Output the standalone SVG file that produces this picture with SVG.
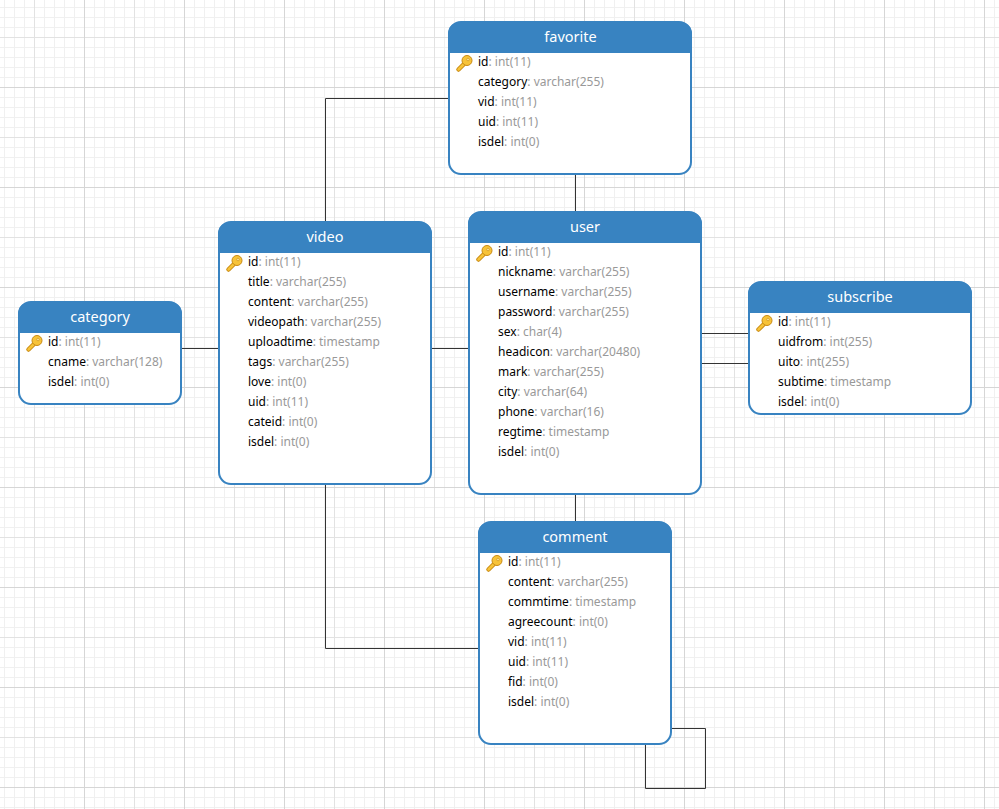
<svg xmlns="http://www.w3.org/2000/svg" width="999" height="809" viewBox="0 0 999 809">
<style>
.box{fill:#fff;stroke:#3883c1;stroke-width:2}
.head{fill:#3883c1}
.title{font:14.5px "Noto Sans","Open Sans",sans-serif;fill:#fff;text-anchor:middle}
.row{font:12px "Noto Sans","Open Sans",sans-serif;fill:#000}
.row tspan{fill:#999}
.wire{fill:none;stroke:#333;stroke-width:1}
</style>
<defs>
<pattern id="minor" width="10" height="10" patternUnits="userSpaceOnUse" x="4" y="7">
<path d="M.5 0V10M0 .5H10" fill="none" stroke="#f0f0f0" stroke-width="1"/>
</pattern>
<pattern id="mid" width="50" height="50" patternUnits="userSpaceOnUse" x="34" y="37">
<path d="M.5 0V50M0 .5H50" fill="none" stroke="#e2e2e2" stroke-width="1"/>
</pattern>
<pattern id="major" width="100" height="100" patternUnits="userSpaceOnUse" x="84" y="87">
<path d="M.5 0V100M0 .5H100" fill="none" stroke="#d6d6d6" stroke-width="1"/>
</pattern>
<g id="key">
<path d="M2.500 16.500L8 11" stroke="#c98a12" stroke-width="4.500" stroke-linecap="round"/>
<path d="M2.500 16.500L8 11" stroke="#f7c338" stroke-width="2.500" stroke-linecap="round"/>
<circle cx="11" cy="7.500" r="5" fill="#f7c338" stroke="#c98a12"/>
<circle cx="12" cy="6.500" r="1.300" fill="#fbe49a" stroke="#c98a12" stroke-width=".6"/>
</g>
</defs>
<rect width="999" height="809" fill="#fff"/>
<rect width="999" height="809" fill="url(#minor)"/>
<rect width="999" height="809" fill="url(#mid)"/>
<rect width="999" height="809" fill="url(#major)"/>

<g id="connectors" class="wire">
<path class="wire" d="M325.500 222V98.500H449"/>
<path class="wire" d="M575.500 174V212"/>
<path class="wire" d="M181 348.500H219"/>
<path class="wire" d="M431 348.500H469"/>
<path class="wire" d="M701 333.500H749"/>
<path class="wire" d="M701 363.500H749"/>
<path class="wire" d="M575.500 494V522"/>
<path class="wire" d="M325.500 484V648.500H479"/>
<path class="wire" d="M671 728.500H705.500V788.500H645.500V744"/>
</g>

<g id="favorite">
<rect class="box" x="449" y="22" width="242" height="152" rx="12"/>
<path class="head" d="M448 53V34a12 12 0 0 1 12-12H680a12 12 0 0 1 12 12V53Z"/>
<text class="title" x="570.500" y="42">favorite</text>
<use href="#key" x="456" y="53"/>
<text class="row" x="478" y="66">id<tspan>: int(11)</tspan></text>
<text class="row" x="478" y="86">category<tspan>: varchar(255)</tspan></text>
<text class="row" x="478" y="106">vid<tspan>: int(11)</tspan></text>
<text class="row" x="478" y="126">uid<tspan>: int(11)</tspan></text>
<text class="row" x="478" y="146">isdel<tspan>: int(0)</tspan></text>
</g>

<g id="user">
<rect class="box" x="469" y="212" width="232" height="282" rx="12"/>
<path class="head" d="M468 243V224a12 12 0 0 1 12-12H690a12 12 0 0 1 12 12V243Z"/>
<text class="title" x="585" y="232">user</text>
<use href="#key" x="476" y="243"/>
<text class="row" x="498" y="256">id<tspan>: int(11)</tspan></text>
<text class="row" x="498" y="276">nickname<tspan>: varchar(255)</tspan></text>
<text class="row" x="498" y="296">username<tspan>: varchar(255)</tspan></text>
<text class="row" x="498" y="316">password<tspan>: varchar(255)</tspan></text>
<text class="row" x="498" y="336">sex<tspan>: char(4)</tspan></text>
<text class="row" x="498" y="356">headicon<tspan>: varchar(20480)</tspan></text>
<text class="row" x="498" y="376">mark<tspan>: varchar(255)</tspan></text>
<text class="row" x="498" y="396">city<tspan>: varchar(64)</tspan></text>
<text class="row" x="498" y="416">phone<tspan>: varchar(16)</tspan></text>
<text class="row" x="498" y="436">regtime<tspan>: timestamp</tspan></text>
<text class="row" x="498" y="456">isdel<tspan>: int(0)</tspan></text>
</g>

<g id="video">
<rect class="box" x="219" y="222" width="212" height="262" rx="12"/>
<path class="head" d="M218 253V234a12 12 0 0 1 12-12H420a12 12 0 0 1 12 12V253Z"/>
<text class="title" x="325" y="242">video</text>
<use href="#key" x="226" y="253"/>
<text class="row" x="248" y="266">id<tspan>: int(11)</tspan></text>
<text class="row" x="248" y="286">title<tspan>: varchar(255)</tspan></text>
<text class="row" x="248" y="306">content<tspan>: varchar(255)</tspan></text>
<text class="row" x="248" y="326">videopath<tspan>: varchar(255)</tspan></text>
<text class="row" x="248" y="346">uploadtime<tspan>: timestamp</tspan></text>
<text class="row" x="248" y="366">tags<tspan>: varchar(255)</tspan></text>
<text class="row" x="248" y="386">love<tspan>: int(0)</tspan></text>
<text class="row" x="248" y="406">uid<tspan>: int(11)</tspan></text>
<text class="row" x="248" y="426">cateid<tspan>: int(0)</tspan></text>
<text class="row" x="248" y="446">isdel<tspan>: int(0)</tspan></text>
</g>

<g id="category">
<rect class="box" x="19" y="302" width="162" height="102" rx="12"/>
<path class="head" d="M18 333V314a12 12 0 0 1 12-12H170a12 12 0 0 1 12 12V333Z"/>
<text class="title" x="100" y="322">category</text>
<use href="#key" x="26" y="333"/>
<text class="row" x="48" y="346">id<tspan>: int(11)</tspan></text>
<text class="row" x="48" y="366">cname<tspan>: varchar(128)</tspan></text>
<text class="row" x="48" y="386">isdel<tspan>: int(0)</tspan></text>
</g>

<g id="subscribe">
<rect class="box" x="749" y="282" width="222" height="132" rx="12"/>
<path class="head" d="M748 313V294a12 12 0 0 1 12-12H960a12 12 0 0 1 12 12V313Z"/>
<text class="title" x="860" y="302">subscribe</text>
<use href="#key" x="756" y="313"/>
<text class="row" x="778" y="326">id<tspan>: int(11)</tspan></text>
<text class="row" x="778" y="346">uidfrom<tspan>: int(255)</tspan></text>
<text class="row" x="778" y="366">uito<tspan>: int(255)</tspan></text>
<text class="row" x="778" y="386">subtime<tspan>: timestamp</tspan></text>
<text class="row" x="778" y="406">isdel<tspan>: int(0)</tspan></text>
</g>

<g id="comment">
<rect class="box" x="479" y="522" width="192" height="222" rx="12"/>
<path class="head" d="M478 553V534a12 12 0 0 1 12-12H660a12 12 0 0 1 12 12V553Z"/>
<text class="title" x="575" y="542">comment</text>
<use href="#key" x="486" y="553"/>
<text class="row" x="508" y="566">id<tspan>: int(11)</tspan></text>
<text class="row" x="508" y="586">content<tspan>: varchar(255)</tspan></text>
<text class="row" x="508" y="606">commtime<tspan>: timestamp</tspan></text>
<text class="row" x="508" y="626">agreecount<tspan>: int(0)</tspan></text>
<text class="row" x="508" y="646">vid<tspan>: int(11)</tspan></text>
<text class="row" x="508" y="666">uid<tspan>: int(11)</tspan></text>
<text class="row" x="508" y="686">fid<tspan>: int(0)</tspan></text>
<text class="row" x="508" y="706">isdel<tspan>: int(0)</tspan></text>
</g>
</svg>
